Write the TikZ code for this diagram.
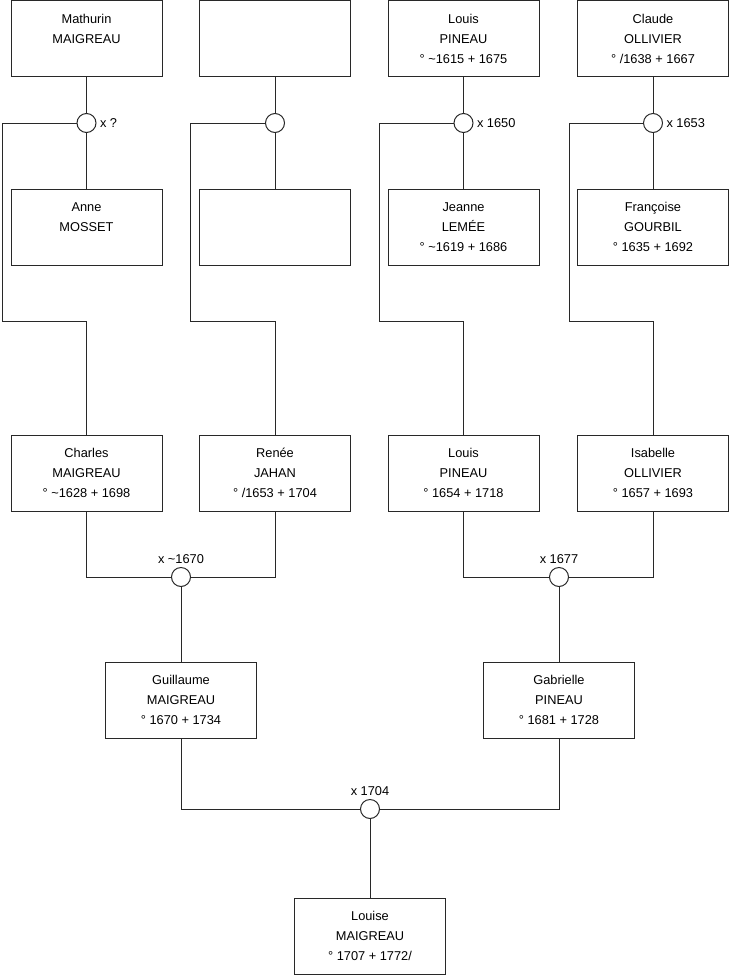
\documentclass[tikz,border=0pt]{standalone}
\usepackage{fontspec}
\setmainfont{Liberation Sans}
\usetikzlibrary{positioning}
\definecolor{boxline}{RGB}{40,40,40}
\tikzset{
  person/.style={draw=boxline, line width=1pt, minimum width=151pt, minimum height=76pt, align=center, inner sep=0pt},
  wed/.style={draw=boxline, line width=1pt, fill=white, circle, minimum size=19pt, inner sep=0pt, label distance=2pt},
  link/.style={draw=boxline, line width=1pt},
}

\begin{document}
\begin{tikzpicture}[x=1pt, y=-1pt, font=\fontsize{12.8}{20}\selectfont]
    \useasboundingbox (0,0) rectangle (740,975);

    % Generation 1: great-grandparents
    \node[person] (mathurin) at (86.5,38.5) {Mathurin\\MAIGREAU\\\mbox{}};
    \node[person] (pjahan) at (275,38.5) {};
    \node[person] (louisA) at (463.5,38.5) {Louis\\PINEAU\\° \textasciitilde1615 + 1675};
    \node[person] (claude) at (653,38.5) {Claude\\OLLIVIER\\° /1638 + 1667};

    \node[wed, label={right:x ?}] (m1) at (86.5,123) {};
    \node[wed] (m2) at (275,123) {};
    \node[wed, label={right:x 1650}] (m3) at (463.5,123) {};
    \node[wed, label={right:x 1653}] (m4) at (653,123) {};

    \node[person] (anne) at (86.5,227) {Anne\\MOSSET\\\mbox{}};
    \node[person] (mjahan) at (275,227) {};
    \node[person] (jeanne) at (463.5,227) {Jeanne\\LEMÉE\\° \textasciitilde1619 + 1686};
    \node[person] (francoise) at (653,227) {Françoise\\GOURBIL\\° 1635 + 1692};

    % Generation 2: grandparents
    \node[person] (charles) at (86.5,473) {Charles\\MAIGREAU\\° \textasciitilde1628 + 1698};
    \node[person] (renee) at (275,473) {Renée\\JAHAN\\° /1653 + 1704};
    \node[person] (louisB) at (463.5,473) {Louis\\PINEAU\\° 1654 + 1718};
    \node[person] (isabelle) at (653,473) {Isabelle\\OLLIVIER\\° 1657 + 1693};

    \node[wed, label={above:x \textasciitilde1670}] (m5) at (181,577) {};
    \node[wed, label={above:x 1677}] (m6) at (559,577) {};

    % Generation 3: parents and child
    \node[person] (guillaume) at (181,700) {Guillaume\\MAIGREAU\\° 1670 + 1734};
    \node[person] (gabrielle) at (559,700) {Gabrielle\\PINEAU\\° 1681 + 1728};

    \node[wed, label={above:x 1704}] (m7) at (370,809) {};

    \node[person] (louise) at (370,936) {Louise\\MAIGREAU\\° 1707 + 1772/};

    % Bends of the descent lines
    \coordinate (k1) at (2,321);
    \coordinate (k2) at (190,321);
    \coordinate (k3) at (379,321);
    \coordinate (k4) at (569,321);

    % Couples
    \draw[link] (mathurin) -- (m1) -- (anne);
    \draw[link] (pjahan) -- (m2) -- (mjahan);
    \draw[link] (louisA) -- (m3) -- (jeanne);
    \draw[link] (claude) -- (m4) -- (francoise);

    % Children of the first couples
    \draw[link] (m1.west) -| (k1) -| (charles.north);
    \draw[link] (m2.west) -| (k2) -| (renee.north);
    \draw[link] (m3.west) -| (k3) -| (louisB.north);
    \draw[link] (m4.west) -| (k4) -| (isabelle.north);

    % Second and third generation
    \draw[link] (charles) |- (m5);
    \draw[link] (renee) |- (m5);
    \draw[link] (m5) -- (guillaume);
    \draw[link] (louisB) |- (m6);
    \draw[link] (isabelle) |- (m6);
    \draw[link] (m6) -- (gabrielle);
    \draw[link] (guillaume) |- (m7);
    \draw[link] (gabrielle) |- (m7);
    \draw[link] (m7) -- (louise);
\end{tikzpicture}
\end{document}
